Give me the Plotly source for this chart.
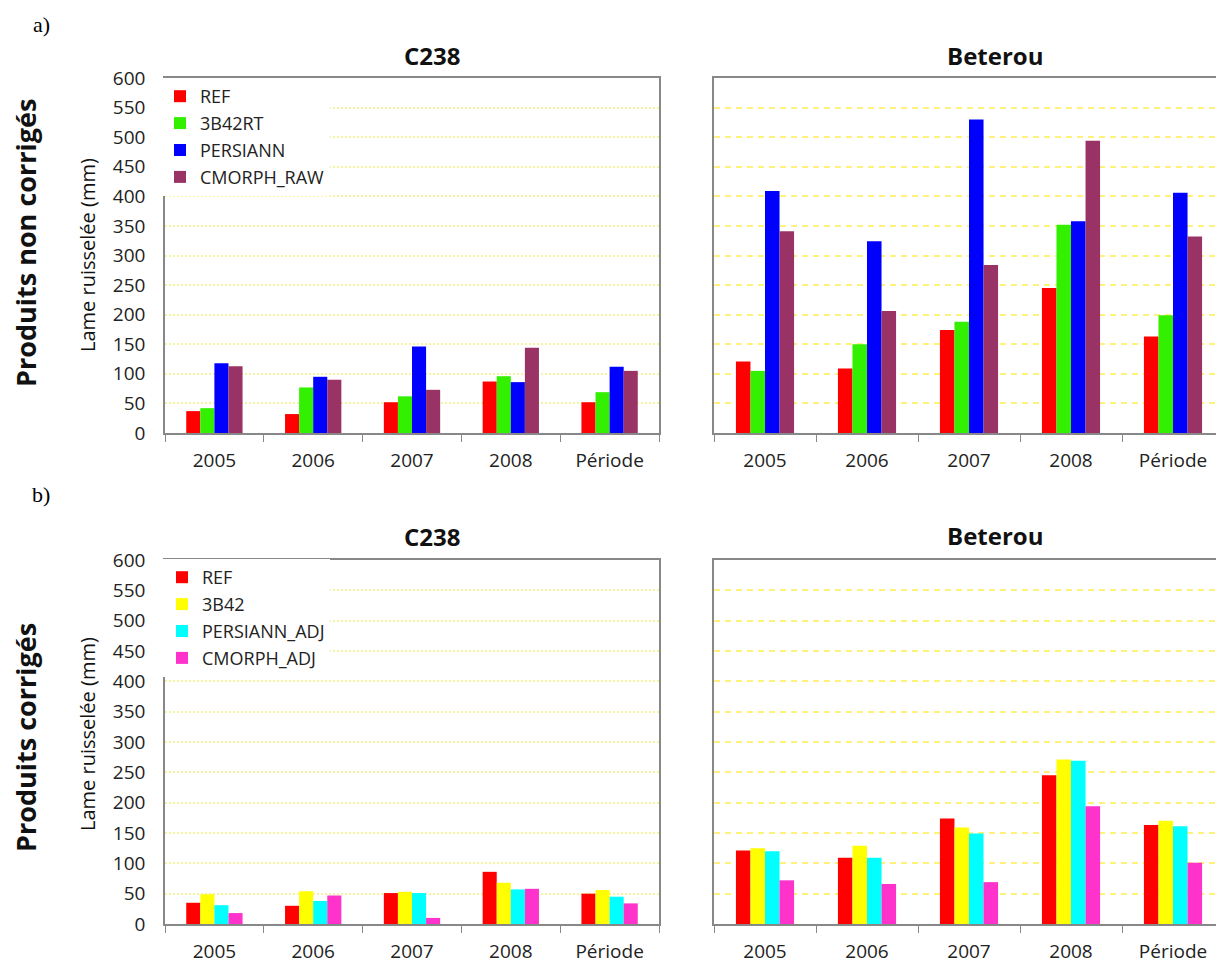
import plotly.graph_objects as go

# The page body has an 8px margin: the figure is drawn at (8, 8) so it fills
# the 1224x964 window exactly when sized 1216x956.
OFF = 8
W, H = 1224 - OFF, 964 - OFF

categories = ["2005", "2006", "2007", "2008", "Période"]

# a) Produits non corrigés
c238_raw_ref = [37, 32, 52, 87, 52]
c238_raw_3b42rt = [42, 77, 62, 96, 69]
c238_raw_persiann = [118, 95, 146, 86, 112]
c238_raw_cmorph = [113, 90, 73, 144, 105]

bet_raw_ref = [121, 109, 174, 245, 163]
bet_raw_3b42rt = [105, 150, 188, 352, 199]
bet_raw_persiann = [409, 324, 530, 358, 406]
bet_raw_cmorph = [341, 206, 284, 494, 332]

# b) Produits corrigés
c238_adj_ref = [35, 30, 51, 86, 50]
c238_adj_3b42 = [49, 54, 53, 68, 56]
c238_adj_persiann = [31, 38, 51, 57, 45]
c238_adj_cmorph = [18, 47, 10, 58, 34]

bet_adj_ref = [121, 109, 174, 245, 163]
bet_adj_3b42 = [125, 129, 159, 271, 170]
bet_adj_persiann = [120, 109, 149, 269, 161]
bet_adj_cmorph = [72, 66, 69, 194, 101]

names_raw = ["REF", "3B42RT", "PERSIANN", "CMORPH_RAW"]
names_adj = ["REF", "3B42", "PERSIANN_ADJ", "CMORPH_ADJ"]
colors_raw = ["#ff0000", "#33f000", "#0000ff", "#993366"]
colors_adj = ["#ff0000", "#ffff00", "#00ffff", "#ff33cc"]

FONT = "Open Sans"


def px(x):
    return (x - OFF) / W


def py(y):
    return 1 - (y - OFF) / H


fig = go.Figure()

panels = [
    ("x", "y", [c238_raw_ref, c238_raw_3b42rt, c238_raw_persiann, c238_raw_cmorph], names_raw, colors_raw, True, "legend"),
    ("x2", "y2", [bet_raw_ref, bet_raw_3b42rt, bet_raw_persiann, bet_raw_cmorph], names_raw, colors_raw, False, "legend"),
    ("x3", "y3", [c238_adj_ref, c238_adj_3b42, c238_adj_persiann, c238_adj_cmorph], names_adj, colors_adj, True, "legend2"),
    ("x4", "y4", [bet_adj_ref, bet_adj_3b42, bet_adj_persiann, bet_adj_cmorph], names_adj, colors_adj, False, "legend2"),
]

for xa, ya, series, names, cols, show, leg in panels:
    for i, (vals, nm, col) in enumerate(zip(series, names, cols)):
        fig.add_trace(go.Bar(
            x=categories, y=vals, name=nm, xaxis=xa, yaxis=ya,
            marker=dict(color=col, line=dict(width=0)),
            showlegend=show, legend=leg, legendgroup=f"{leg}_{i}",
        ))

xdom_l = [px(165), px(659)]
xdom_r = [px(714), 1.0]
ydom_t = [py(433), py(78)]
ydom_b = [py(924), py(560)]

axis_col = "#888888"
tickfont = dict(family=FONT, size=19, color="#222222")


def xaxis(domain, anchor):
    return dict(
        domain=domain, anchor=anchor, type="category", automargin=False,
        showline=True, linecolor=axis_col, linewidth=1.5, mirror=True,
        ticks="outside", ticklen=7, tickcolor=axis_col, tickwidth=1.2,
        tickson="boundaries", showgrid=False, tickfont=tickfont,
        ticklabelstandoff=9, fixedrange=True,
    )


def yaxis(domain, anchor, labels, mirror, gridcolor, griddash, gridwidth):
    return dict(
        domain=domain, anchor=anchor, range=[0, 600], automargin=False,
        tickvals=list(range(0, 601, 50)),
        showticklabels=labels, tickfont=tickfont,
        showline=True, linecolor=axis_col, linewidth=1.5, mirror=mirror,
        ticks="", ticklabelstandoff=14,
        showgrid=True, gridcolor=gridcolor, gridwidth=gridwidth, griddash=griddash,
        zeroline=False, fixedrange=True,
    )


left_grid = "#f4f4a0"
right_grid = "#fff27a"

fig.update_layout(
    width=W, height=H,
    margin=dict(l=0, r=0, t=0, b=0, autoexpand=False),
    paper_bgcolor="white", plot_bgcolor="white",
    barmode="group", bargap=0.43, bargroupgap=0.0,
    font=dict(family=FONT, color="#222222"),
    xaxis=xaxis(xdom_l, "y"),
    yaxis=yaxis(ydom_t, "x", True, True, left_grid, "2px,2px", 1.6),
    xaxis2=xaxis(xdom_r, "y2"),
    yaxis2=yaxis(ydom_t, "x2", False, False, right_grid, "6px,5px", 2),
    xaxis3=xaxis(xdom_l, "y3"),
    yaxis3=yaxis(ydom_b, "x3", True, True, left_grid, "2px,2px", 1.6),
    xaxis4=xaxis(xdom_r, "y4"),
    yaxis4=yaxis(ydom_b, "x4", False, False, right_grid, "6px,5px", 2),
    legend=dict(
        x=px(160), y=py(78), xanchor="left", yanchor="top",
        bgcolor="white", borderwidth=0, traceorder="grouped",
        tracegroupgap=0.5, font=dict(family=FONT, size=18, color="#222222"),
        itemwidth=30,
    ),
    legend2=dict(
        x=px(162), y=py(559), xanchor="left", yanchor="top",
        bgcolor="white", borderwidth=0, traceorder="grouped",
        tracegroupgap=0.5, font=dict(family=FONT, size=18, color="#222222"),
        itemwidth=30,
    ),
)

ann = []


def add_text(text, x, y, size, bold=False, angle=0, family=FONT, color="#111111"):
    ann.append(dict(
        text=f"<b>{text}</b>" if bold else text,
        x=px(x), y=py(y), xref="paper", yref="paper",
        xanchor="center", yanchor="middle", showarrow=False,
        textangle=angle, font=dict(family=family, size=size, color=color),
    ))


add_text("a)", 41, 24, 22, family="Liberation Serif", color="black")
add_text("b)", 41, 494, 22, family="Liberation Serif", color="black")
add_text("C238", 432, 55, 24, bold=True)
add_text("Beterou", 995, 55, 24, bold=True)
add_text("C238", 432, 536, 24, bold=True)
add_text("Beterou", 995, 535, 24, bold=True)
add_text("Produits non corrigés", 25, 243, 27, bold=True, angle=-90)
add_text("Produits corrigés", 25, 738, 27, bold=True, angle=-90)
add_text("Lame ruisselée (mm)", 87, 255, 20, angle=-90)
add_text("Lame ruisselée (mm)", 87, 734, 20, angle=-90)

fig.update_layout(annotations=ann)

fig.write_html("out.html")
